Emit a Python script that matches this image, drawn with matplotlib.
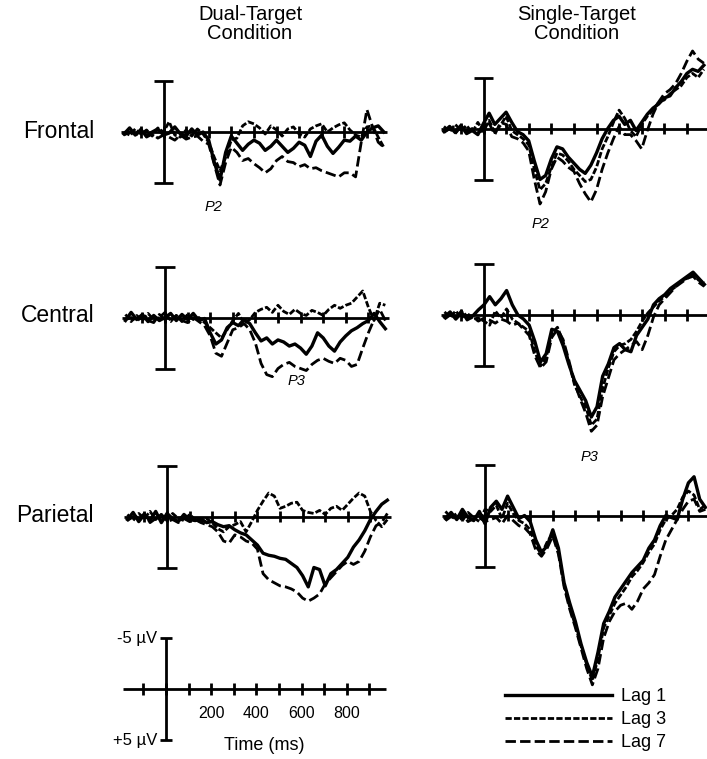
import matplotlib
matplotlib.use("Agg")
import matplotlib.pyplot as plt

plt.rcParams['font.family'] = ['Liberation Sans', 'DejaVu Sans']
plt.rcParams['lines.scale_dashes'] = False

W, H = 707, 759
PX_MS = 0.226   # pixels per ms
PX_UV = 10.2    # pixels per microvolt

# sample times (ms)
times = list(range(-175, 1000, 25))
tick_times = [-100, 0, 100, 200, 300, 400, 500, 600, 700, 800, 900]
tick_labels = ["200", "400", "600", "800"]
label_ticks = [200, 400, 600, 800]

rows = ["Frontal", "Central", "Parietal"]
cols = ["Dual-Target\nCondition", "Single-Target\nCondition"]
lags = ["Lag 1", "Lag 3", "Lag 7"]

# values in microvolts (positive plotted downward, ERP convention)
dual_frontal_lag1 = [0.2,-0.4,0.3,-0.2,0.4,0.0,-0.3,0.3, 0.1,-0.5,0.2,0.4,-0.3,0.3,0.0,0.8,
    3.0,4.7,2.0,0.4, 1.1,1.8,1.2,0.8, 1.1,1.8,1.4,0.8, 1.4,2.0,1.6,1.0, 1.3,2.4,0.9,0.3,
    1.4,2.1,1.5,0.8, 0.9,0.4,0.8,0.0, -0.4,-0.6,0.0]
dual_frontal_lag3 = [0.0,0.3,-0.3,0.2,-0.2,0.4,-0.4,0.0, -1.0,0.3,0.5,-0.2,0.4,-0.3,0.2,1.0,
    2.5,3.8,2.5,0.8, 0.6,-0.6,-1.0,-0.8, -0.4,0.2,-0.6,-0.2, 0.4,-0.3,-0.5,0.2, 0.5,-0.3,-0.6,-0.8,
    0.0,-0.4,-0.7,-0.9, -0.2,0.3,0.5,-0.5, -0.6,0.5,1.5]
dual_frontal_lag7 = [0.3,0.0,0.4,-0.3,0.5,0.2,0.6,0.3, 0.5,0.8,0.3,0.7,0.5,0.4,0.9,1.2,
    3.2,5.2,3.0,1.5, 2.0,2.8,2.6,3.1, 3.5,4.0,3.6,2.8, 2.4,2.9,3.0,3.4, 3.2,3.6,3.5,3.8,
    4.0,4.2,4.4,4.0, 4.0,4.4,1.0,-2.2, -0.5,1.0,1.5]

dual_central_lag1 = [0.3,-0.5,0.2,-0.3,0.4,-0.2,0.3,0.0, -0.4,0.3,-0.3,0.2,-0.4,0.3,0.1,1.5,
    2.6,2.2,1.0,0.5, 0.8,0.2,0.6,1.5, 2.3,2.0,2.6,2.2, 2.4,2.8,2.6,3.0, 3.6,2.8,1.5,2.0,
    2.8,3.3,2.4,1.8, 1.3,1.0,0.6,0.3, -0.4,0.4,1.1]
dual_central_lag3 = [-0.3,0.4,-0.2,0.3,-0.4,0.2,0.0,-0.5, 0.3,-0.2,0.4,-0.3,0.2,0.0,0.5,1.0,
    1.5,2.0,1.2,0.3, -0.4,0.6,0.2,-0.5, -0.8,-1.0,-0.5,-1.2, -0.6,-0.3,-0.8,-0.4, -0.2,-0.7,-0.5,-0.2,
    -0.8,-1.2,-0.9,-1.2, -1.4,-2.0,-2.6,-1.0, 0.3,-1.4,-1.2]
dual_central_lag7 = [0.2,0.0,0.4,-0.2,0.3,0.5,-0.3,0.2, 0.4,-0.2,0.3,0.5,0.0,0.4,0.8,1.8,
    3.5,3.8,2.5,1.2, 1.0,0.6,1.2,2.5, 4.5,5.6,5.8,5.0, 4.6,4.4,4.8,5.0, 5.2,4.6,4.2,4.0,
    4.3,4.5,4.0,4.2, 4.8,4.6,3.0,1.5, 0.2,-0.8,0.3]

dual_parietal_lag1 = [0.3,-0.4,0.5,-0.2,0.4,-0.5,0.6,-0.3, 0.2,0.5,-0.2,0.3,0.4,0.2,0.6,0.5,
    0.8,1.0,0.9,1.3, 1.6,1.8,2.3,2.8, 3.6,3.8,3.9,4.1, 4.2,4.6,5.0,5.8, 6.9,5.0,5.2,6.8,
    5.6,5.2,4.6,4.0, 3.0,2.3,1.4,0.3, -0.5,-1.2,-1.6]
dual_parietal_lag3 = [-0.2,0.4,-0.3,0.2,-0.5,0.3,-0.2,0.4, -0.3,0.2,0.4,-0.2,0.3,0.5,0.2,0.6,
    1.2,1.5,1.0,0.8, 0.5,1.5,0.5,-0.6, -1.5,-2.3,-2.0,-0.8, -1.0,-1.3,-1.4,-0.6, -0.4,-0.3,-0.6,-0.2,
    -0.8,-1.0,-0.6,-1.2, -1.8,-2.3,-2.0,-0.5, 0.4,1.0,0.3]
dual_parietal_lag7 = [0.4,0.0,0.3,-0.3,0.6,0.2,-0.2,0.5, 0.3,0.6,0.2,0.5,0.3,0.6,0.8,1.0,
    1.5,2.4,2.6,1.8, 2.0,2.4,2.6,3.2, 5.6,6.2,6.5,6.8, 6.9,7.1,7.4,8.0, 8.3,8.0,7.6,6.6,
    6.0,5.4,4.8,4.4, 4.7,4.4,3.4,2.0, 0.9,0.6,-0.3]

single_frontal_lag1 = [0.3,-0.2,0.4,-0.3,0.5,0.2,0.6,-0.5, -1.5,-0.4,-1.0,-1.6,-0.6,0.3,0.6,1.2,
    3.2,5.0,4.6,3.0, 1.8,2.0,2.8,3.4, 4.0,4.4,3.6,2.4, 1.0,0.0,-0.8,-1.2, -0.4,-0.8,0.2,-0.6,
    -1.4,-2.0,-2.4,-3.0, -3.2,-4.0,-4.6,-5.4, -5.8,-5.6,-6.2]
single_frontal_lag3 = [-0.2,0.3,-0.4,0.2,-0.3,0.4,-0.6,0.3, -0.8,0.4,-0.3,-1.2,0.2,0.6,1.0,1.6,
    4.0,6.0,5.4,3.8, 2.4,2.6,3.2,4.0, 4.6,5.2,5.0,3.8, 2.0,0.8,-0.6,-1.8, -1.0,0.2,0.8,-0.4,
    -1.2,-1.8,-2.6,-2.8, -3.4,-3.8,-4.2,-5.0, -5.4,-5.0,-5.8]
single_frontal_lag7 = [0.4,0.0,0.5,-0.2,0.3,0.0,0.4,0.2, -0.5,0.6,-0.6,-0.4,0.8,1.0,1.4,2.2,
    5.0,7.4,6.2,4.0, 2.8,3.2,3.8,4.2, 5.4,6.4,7.2,6.0, 4.0,2.4,1.0,-0.2, 0.6,0.6,1.2,2.0,
    0.2,-1.4,-2.6,-3.4, -3.8,-4.4,-5.4,-6.6, -7.6,-6.8,-6.4]

single_central_lag1 = [0.2,-0.3,0.4,-0.2,0.3,0.1,-0.5,-1.0, -1.8,-1.0,-1.6,-2.4,-1.0,0.0,0.4,1.0,
    2.6,4.6,3.8,1.4, 1.6,3.0,4.8,6.4, 7.4,8.4,10.0,9.0, 6.0,4.8,3.2,2.8, 3.4,3.6,2.0,1.2,
    0.4,-1.0,-1.6,-2.0, -2.6,-3.0,-3.4,-3.8, -4.2,-3.6,-3.0]
single_central_lag3 = [-0.3,0.2,-0.4,0.3,-0.2,0.4,0.3,0.6, 1.0,-0.4,0.3,-0.6,0.4,0.8,1.2,1.6,
    3.6,5.0,4.2,1.8, 1.2,2.6,4.6,6.8, 8.0,9.0,10.8,10.2, 7.2,5.2,3.6,3.0, 2.8,2.4,1.6,0.6,
    -0.2,-0.8,-1.4,-1.8, -2.4,-2.8,-3.4,-3.6, -4.0,-3.4,-3.2]
single_central_lag7 = [0.4,0.0,0.3,-0.4,0.5,0.2,0.6,0.3, 0.5,0.8,0.4,0.6,1.0,0.8,1.4,2.0,
    4.0,5.2,4.6,2.2, 1.4,2.4,4.4,6.6, 8.2,9.6,11.4,10.8, 8.0,6.2,4.4,3.8, 3.4,3.0,2.6,3.4,
    2.0,0.2,-1.0,-1.6, -2.2,-2.8,-3.2,-3.6, -3.8,-3.2,-2.8]

single_parietal_lag1 = [0.3,-0.3,0.4,-0.6,0.2,0.5,-0.4,0.8, -0.8,-1.4,-0.6,-1.9,-0.8,0.3,0.0,0.6,
    2.4,3.6,3.0,1.4, 3.2,6.6,8.6,10.4, 12.6,14.4,15.8,13.4, 10.6,9.4,8.0,7.2, 6.4,5.6,5.0,4.4,
    3.2,2.4,1.0,0.0, 0.2,0.4,-1.6,-3.2, -3.8,-1.6,-0.8]
single_parietal_lag3 = [-0.4,0.2,-0.2,0.5,-0.3,0.2,0.6,-0.6, -0.4,-1.0,0.3,-1.2,-0.2,0.5,0.8,1.4,
    3.0,3.8,2.6,1.8, 3.6,6.8,9.0,10.8, 12.8,14.6,16.2,14.0, 11.0,9.8,8.6,7.8, 7.0,6.0,5.4,4.6,
    3.6,2.8,1.4,0.4, 0.0,-0.6,-1.8,-2.4, -2.0,-0.6,-1.0]
single_parietal_lag7 = [0.5,0.1,0.4,-0.2,0.6,0.3,0.2,0.6, 0.4,0.2,0.8,0.0,0.5,1.0,1.2,1.8,
    3.4,4.0,3.2,2.0, 3.8,7.0,9.2,11.0, 13.0,15.0,16.6,15.0, 12.0,10.4,9.4,8.8, 8.6,9.2,8.4,7.2,
    6.6,5.8,4.0,2.4, 1.4,0.4,-0.6,-1.4, -1.6,-0.4,-0.6]

data = {
    ("Frontal", 0): [dual_frontal_lag1, dual_frontal_lag3, dual_frontal_lag7],
    ("Central", 0): [dual_central_lag1, dual_central_lag3, dual_central_lag7],
    ("Parietal", 0): [dual_parietal_lag1, dual_parietal_lag3, dual_parietal_lag7],
    ("Frontal", 1): [single_frontal_lag1, single_frontal_lag3, single_frontal_lag7],
    ("Central", 1): [single_central_lag1, single_central_lag3, single_central_lag7],
    ("Parietal", 1): [single_parietal_lag1, single_parietal_lag3, single_parietal_lag7],
}

# layout: pixel position of time zero and of the baseline for each panel
origins = {
    ("Frontal", 0): (163.5, 132.0), ("Central", 0): (165.0, 317.5), ("Parietal", 0): (167.0, 516.5),
    ("Frontal", 1): (483.5, 128.5), ("Central", 1): (484.0, 315.0), ("Parietal", 1): (485.0, 515.5),
}
scale_origin = (166.0, 689.0)

styles = [dict(linestyle='-', lw=2.4),
          dict(linestyle=(0, (4.5, 1.6)), lw=2.0),
          dict(linestyle=(0, (7.5, 3.0)), lw=2.0)]

TMIN, TMAX, VMIN, VMAX = -200, 1000, -10, 18

fig = plt.figure(figsize=(W / 100, H / 100), dpi=100)

def make_axes(x0, base):
    left = (x0 + TMIN * PX_MS) / W
    width = (TMAX - TMIN) * PX_MS / W
    bottom = 1 - (base + VMAX * PX_UV) / H
    height = (VMAX - VMIN) * PX_UV / H
    ax = fig.add_axes([left, bottom, width, height])
    ax.set_xlim(TMIN, TMAX)
    ax.set_ylim(VMAX, VMIN)
    ax.axis('off')
    return ax

def draw_frame(ax, t_end, cap_ms=44):
    k = dict(color='black', lw=2.0, clip_on=False, solid_capstyle='butt')
    ax.plot([-190, t_end], [0, 0], **k)
    for tt in tick_times:
        ax.plot([tt, tt], [-0.55, 0.55], **k)
    ax.plot([0, 0], [-5, 5], **k)
    ax.plot([-cap_ms, cap_ms], [-5, -5], **k)
    ax.plot([-cap_ms, cap_ms], [5, 5], **k)

handles = None
for key, series in data.items():
    x0, base = origins[key]
    ax = make_axes(x0, base)
    draw_frame(ax, 990 if key[1] == 0 else 1000)
    hs = []
    for vals, st in zip(series, styles):
        h, = ax.plot(times, vals, color='black', clip_on=False,
                     dash_capstyle='butt', solid_joinstyle='round', **st)
        hs.append(h)
    handles = hs
    if key == ("Frontal", 0):
        ax.text(223, 7.4, "P2", fontsize=10.5, style='italic', ha='center', va='center')
    if key == ("Frontal", 1):
        ax.text(250, 9.4, "P2", fontsize=10.5, style='italic', ha='center', va='center')
    if key == ("Central", 0):
        ax.text(580, 6.2, "P3", fontsize=10.5, style='italic', ha='center', va='center')
    if key == ("Central", 1):
        ax.text(465, 13.9, "P3", fontsize=10.5, style='italic', ha='center', va='center')

# calibration / scale axes
axs = make_axes(*scale_origin)
k = dict(color='black', lw=2.0, clip_on=False, solid_capstyle='butt')
axs.plot([-190, 975], [0, 0], **k)
for tt in tick_times:
    axs.plot([tt, tt], [-0.55, 0.55], **k)
axs.plot([0, 0], [-5, 5], **k)
axs.plot([-27, 27], [-5, -5], **k)
axs.plot([-27, 27], [5, 5], **k)
for tt, lab in zip(label_ticks, tick_labels):
    axs.text(tt, 2.45, lab, fontsize=11.5, ha='center', va='center')
axs.text(-38, -5, "-5 µV", fontsize=12, ha='right', va='center')
axs.text(-38, 5, "+5 µV", fontsize=12, ha='right', va='center')
axs.text(435, 5.5, "Time (ms)", fontsize=13, ha='center', va='center')

# titles and row labels
fig.text(250 / W, 1 - 24 / H, cols[0], fontsize=14.5, ha='center', va='center', linespacing=0.95)
fig.text(577 / W, 1 - 24 / H, cols[1], fontsize=14.5, ha='center', va='center', linespacing=0.95)
for name, yp in zip(rows, [131, 316, 516]):
    fig.text(94 / W, 1 - yp / H, name, fontsize=16.5, ha='right', va='center')

fig.legend(handles, lags, loc='upper left', bbox_to_anchor=(505 / W, 1 - 688 / H),
           frameon=False, fontsize=13, handlelength=5.9, handletextpad=0.55,
           labelspacing=0.33, borderpad=0, borderaxespad=0)

fig.savefig("out.png", dpi=100)
